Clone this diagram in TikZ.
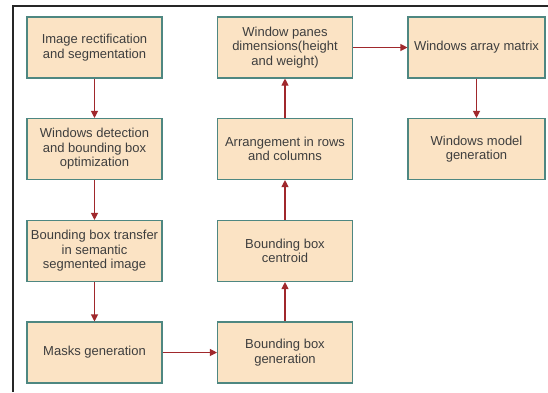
\documentclass[tikz,border=0pt]{standalone}
\usepackage{fontspec}
\setmainfont{Liberation Sans}
\usetikzlibrary{arrows.meta}
\definecolor{boxfill}{HTML}{FBE3C4}
\definecolor{boxline}{HTML}{4E8781}
\definecolor{flow}{HTML}{A0282C}
\definecolor{txt}{HTML}{3E3E3E}
\begin{document}
\begin{tikzpicture}[x=1pt,y=-1pt,
  stepbox/.style={draw=boxline,fill=boxfill,line width=1.1pt,
    minimum width=135pt,minimum height=61pt,inner sep=1pt,
    align=center,text=txt,
    font=\fontsize{13}{14.6}\selectfont},
  flowarrow/.style={draw=flow,line width=1.1pt,
    -{Triangle[length=7pt,width=7pt]}}]
  \useasboundingbox (0,0) rectangle (548,392);
  \fill[white] (0,0) rectangle (548,392);
  % frame lines along the top and left edges
  \draw[line width=2pt,color=black!85] (13,392) -- (13,5.5) -- (548,5.5);

  % left column
  \node[stepbox] (rect) at (94.5,47.5) {Image rectification\\and segmentation};
  \node[stepbox] (detect) at (94.5,149) {Windows detection\\and bounding box\\optimization};
  \node[stepbox] (transfer) at (94.5,251) {Bounding box transfer\\in semantic\\segmented image};
  \node[stepbox] (masks) at (94.5,352.5) {Masks generation};

  % middle column
  \node[stepbox] (bbgen) at (285,352.5) {Bounding box\\generation};
  \node[stepbox] (centroid) at (285,251) {Bounding box\\centroid};
  \node[stepbox] (arrange) at (285,149) {Arrangement in rows\\and columns};
  \node[stepbox] (panes) at (285,47.5) {Window panes\\dimensions(height\\and weight)};

  % right column
  \node[stepbox,minimum width=137pt] (matrix) at (476.5,47.5) {Windows array matrix};
  \node[stepbox,minimum width=137pt] (model) at (476.5,149) {Windows model\\generation};

  % connectors
  \draw[flowarrow] (rect) -- (detect);
  \draw[flowarrow] (detect) -- (transfer);
  \draw[flowarrow] (transfer) -- (masks);
  \draw[flowarrow] (masks) -- (bbgen);
  \draw[flowarrow] (bbgen) -- (centroid);
  \draw[flowarrow] (centroid) -- (arrange);
  \draw[flowarrow] (arrange) -- (panes);
  \draw[flowarrow] (panes) -- (matrix);
  \draw[flowarrow] (matrix) -- (model);
\end{tikzpicture}
\end{document}
